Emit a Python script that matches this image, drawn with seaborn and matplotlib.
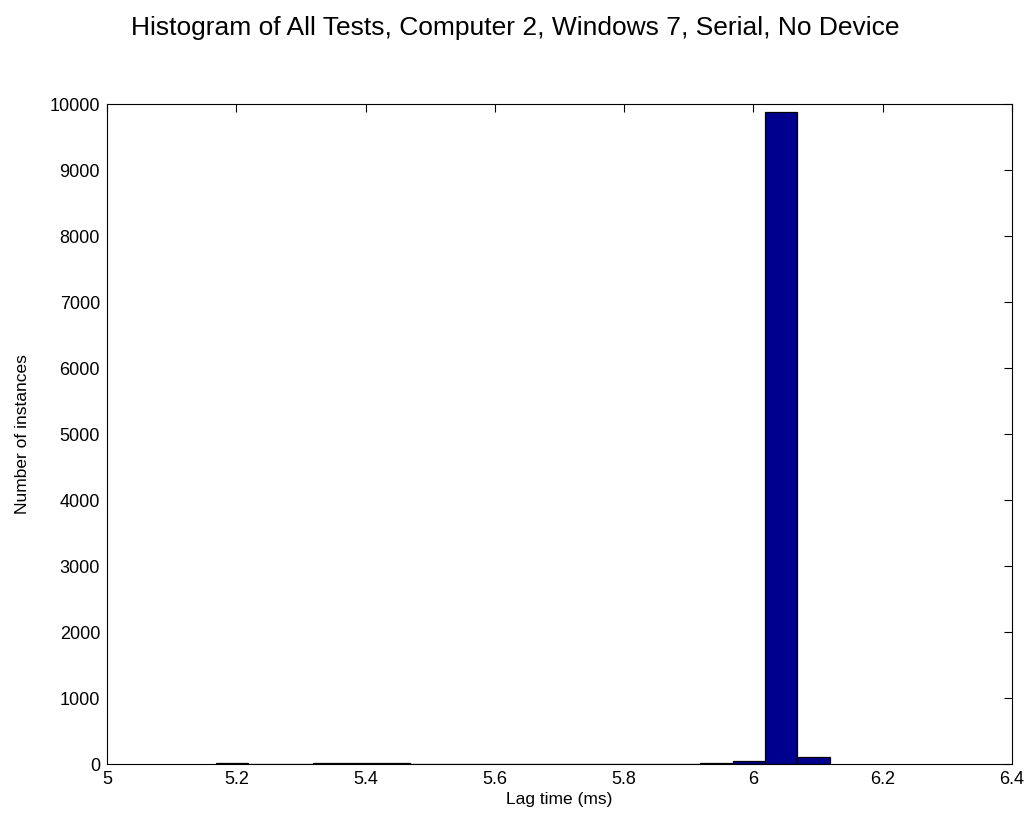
import numpy as np
import pandas as pd
import matplotlib
matplotlib.use("Agg")
import matplotlib.pyplot as plt
import seaborn as sns

# Data
bin_edges = [5.168 + 0.05 * i for i in range(20)]
bin_counts = [8, 0, 0, 8, 8, 8, 0, 0, 0, 0, 0, 0, 0, 0, 0, 15, 50, 9880, 110]
x_ticks = [5.0, 5.2, 5.4, 5.6, 5.8, 6.0, 6.2, 6.4]
x_tick_labels = ["5", "5.2", "5.4", "5.6", "5.8", "6", "6.2", "6.4"]
y_ticks = [0, 1000, 2000, 3000, 4000, 5000, 6000, 7000, 8000, 9000, 10000]

centers = [(bin_edges[i] + bin_edges[i + 1]) / 2 for i in range(len(bin_counts))]
df = pd.DataFrame({"lag": centers, "count": bin_counts})

sns.set_style("white")
plt.rcParams['font.family'] = ['Liberation Sans', 'DejaVu Sans']
plt.rcParams['text.color'] = 'black'
plt.rcParams['axes.labelcolor'] = 'black'

fig = plt.figure(figsize=(10.31, 8.21), dpi=100)
ax = fig.add_axes([0.1038, 0.0694, 0.8778, 0.8039])

sns.histplot(data=df, x="lag", weights="count", bins=bin_edges, ax=ax,
             color=(0, 0, 0.5625), edgecolor="black", linewidth=0.9, alpha=1.0)

ax.set_xlim(5.0, 6.4)
ax.set_ylim(0, 10000)
ax.set_xticks(x_ticks)
ax.set_xticklabels(x_tick_labels)
ax.set_yticks(y_ticks)
ax.set_yticklabels([str(v) for v in y_ticks])
ax.tick_params(direction="in", length=6, width=0.8, top=True, right=True,
               labelsize=13, colors="black", pad=5)
for s in ax.spines.values():
    s.set_visible(True)
    s.set_color("black")
    s.set_linewidth(0.8)

ax.set_xlabel("Lag time (ms)", fontsize=12.5, labelpad=3)
ax.set_ylabel("Number of instances", fontsize=12.5, labelpad=14)
fig.text(0.5, 0.966, "Histogram of All Tests, Computer 2, Windows 7, Serial, No Device",
         fontsize=19, ha="center", va="center", color="black")

fig.savefig("out.png", dpi=100, facecolor="white")
